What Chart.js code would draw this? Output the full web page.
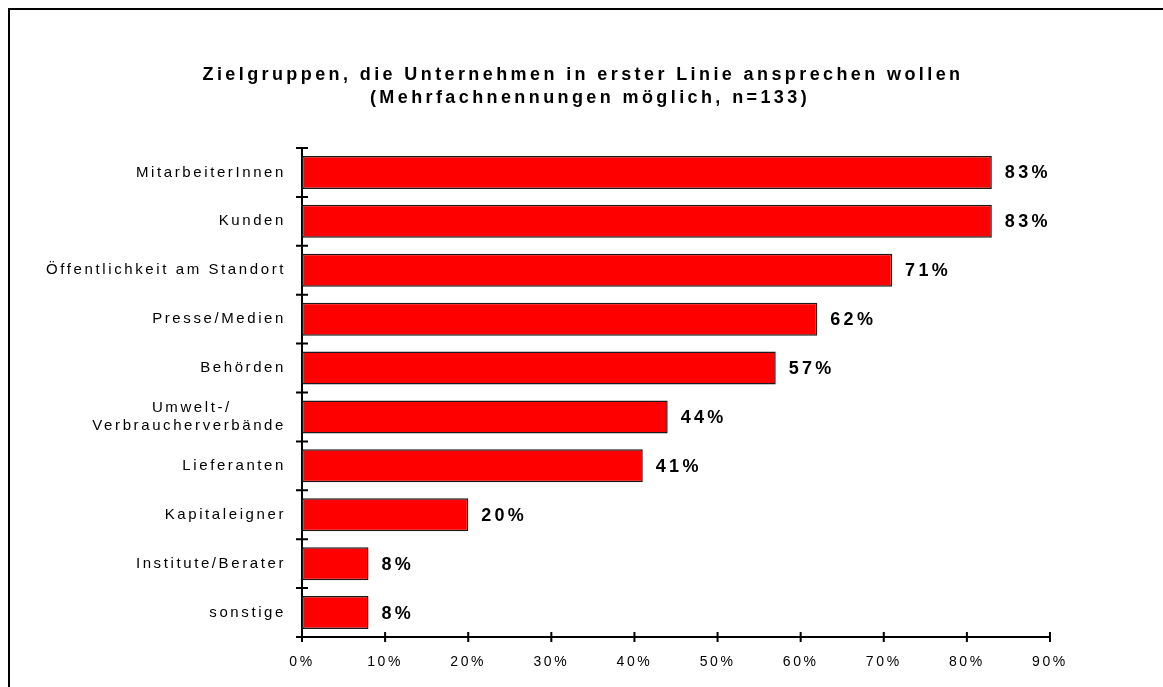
<!DOCTYPE html>
<html>
<head>
<meta charset="utf-8">
<script src="https://cdn.jsdelivr.net/npm/chart.js@4"></script>
<style>
  html, body { margin: 0; padding: 0; overflow: hidden; background: #fff; }
  #frame { position: absolute; left: 8px; top: 8px; width: 1200px; height: 720px; border: 2px solid #000; box-sizing: border-box; }
  #zielgruppen { position: absolute; left: 0; top: 0; }
</style>
</head>
<body>
<div id="frame"></div>
<canvas id="zielgruppen" width="1163" height="687"></canvas>
<script>
var categories = [
  'MitarbeiterInnen',
  'Kunden',
  'Öffentlichkeit am Standort',
  'Presse/Medien',
  'Behörden',
  ['Umwelt-/        ', 'Verbraucherverbände'],
  'Lieferanten',
  'Kapitaleigner',
  'Institute/Berater',
  'sonstige'
];
var shares = [83, 83, 71, 62, 57, 44, 41, 20, 8, 8];
var xTicks = [0, 10, 20, 30, 40, 50, 60, 70, 80, 90];
var titleLines = [
  'Zielgruppen, die Unternehmen in erster Linie ansprechen wollen',
  '(Mehrfachnennungen möglich, n=133)'
];

var fontFamily = "'Liberation Sans', Arial, Helvetica, sans-serif";

// wide letter spacing like the original
var spacing = {
  id: 'spacing',
  beforeLayout: function(chart) { chart.ctx.letterSpacing = '2.6px'; },
  beforeDraw: function(chart) { chart.ctx.letterSpacing = '2.6px'; }
};

// title centred on the whole page, not on the plot
var pageTitle = {
  id: 'pageTitle',
  afterDraw: function(chart) {
    var ctx = chart.ctx;
    ctx.save();
    ctx.letterSpacing = '3.4px';
    ctx.font = 'bold 18px ' + fontFamily;
    ctx.fillStyle = '#000';
    ctx.textAlign = 'center';
    ctx.textBaseline = 'middle';
    ctx.fillText(titleLines[0], 583, 75);
    ctx.fillText(titleLines[1], 590, 98);
    ctx.restore();
  }
};

// tick marks crossing both axes
var crossTicks = {
  id: 'crossTicks',
  afterDraw: function(chart) {
    var ctx = chart.ctx;
    var x = chart.scales.x, y = chart.scales.y;
    var band = y.getPixelForTick(1) - y.getPixelForTick(0);
    ctx.save();
    ctx.strokeStyle = '#000';
    ctx.lineWidth = 2;
    ctx.beginPath();
    for (var i = 0; i < x.ticks.length; i++) {
      var px = x.getPixelForTick(i);
      ctx.moveTo(px, y.bottom - 5);
      ctx.lineTo(px, y.bottom + 5);
    }
    for (var j = 0; j <= categories.length; j++) {
      var py = j < categories.length ? y.getPixelForTick(j) - band / 2 : y.bottom;
      ctx.moveTo(x.left - 6, py);
      ctx.lineTo(x.left + 6, py);
    }
    ctx.stroke();
    ctx.restore();
  }
};

var valueLabels = {
  id: 'valueLabels',
  afterDatasetsDraw: function(chart) {
    var ctx = chart.ctx;
    var meta = chart.getDatasetMeta(0);
    ctx.save();
    ctx.letterSpacing = '3.3px';
    ctx.font = 'bold 18px ' + fontFamily;
    ctx.fillStyle = '#000';
    ctx.textAlign = 'left';
    ctx.textBaseline = 'middle';
    meta.data.forEach(function(bar, i) {
      ctx.fillText(shares[i] + '%', bar.x + 13, bar.y + 1);
    });
    ctx.restore();
  }
};

var ctx = document.getElementById('zielgruppen');

var chart = new Chart(ctx, {
  type: 'bar',
  data: {
    labels: categories,
    datasets: [{
      data: shares,
      backgroundColor: '#ff0000',
      borderColor: '#1a1a1a',
      borderWidth: 1.5,
      borderSkipped: false,
      barPercentage: 0.675,
      categoryPercentage: 1
    }]
  },
  options: {
    indexAxis: 'y',
    responsive: false,
    animation: false,
    devicePixelRatio: 1,
    layout: { padding: { left: 0, right: 113, top: 148, bottom: 0 } },
    plugins: {
      legend: { display: false },
      tooltip: { enabled: false },
      title: { display: false }
    },
    scales: {
      x: {
        min: 0,
        max: 90,
        afterBuildTicks: function(scale) {
          scale.ticks = xTicks.map(function(v) { return { value: v }; });
        },
        afterFit: function(scale) { scale.height = 50; },
        grid: { display: false, drawTicks: false },
        border: { display: true, color: '#000', width: 2 },
        ticks: {
          color: '#000',
          padding: 17,
          maxRotation: 0,
          font: { family: fontFamily, size: 14 },
          callback: function(v) { return v + '%'; }
        }
      },
      y: {
        afterFit: function(scale) { scale.width = 302; },
        grid: { display: false, drawTicks: false },
        border: { display: true, color: '#000', width: 2 },
        ticks: {
          color: '#000',
          padding: 16,
          font: { family: fontFamily, size: 15, lineHeight: 1.25 }
        }
      }
    }
  },
  plugins: [spacing, crossTicks, valueLabels, pageTitle]
});
</script>
</body>
</html>
